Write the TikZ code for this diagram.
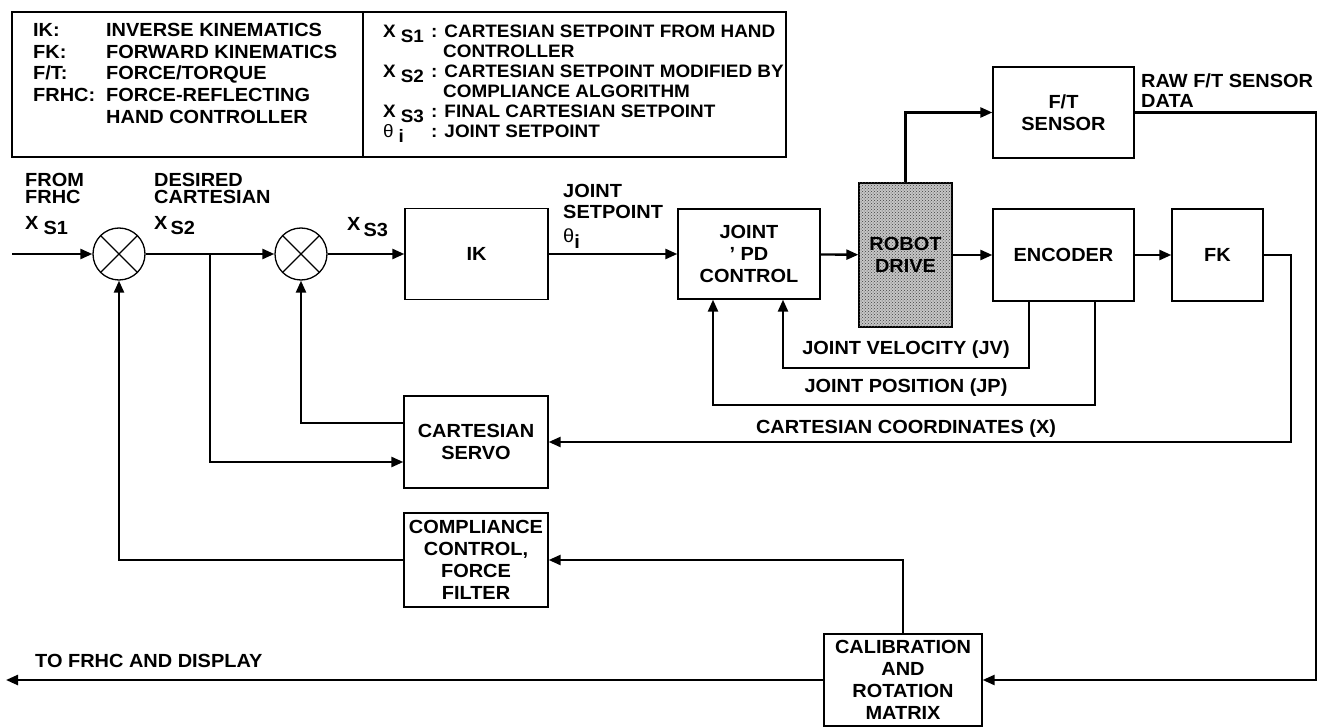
\documentclass[tikz,border=0pt]{standalone}
\usepackage{fontspec}
\setmainfont{Liberation Sans}[FakeStretch=1.05]
\usepackage{tikz}
\usetikzlibrary{arrows.meta,positioning,patterns}
\newcommand{\lowsub}[1]{\raisebox{-0.55ex}{#1}}

\begin{document}
\begin{tikzpicture}[x=1pt,y=-1pt,font=\fontsize{19}{22}\selectfont\bfseries,
  blk/.style={draw,line width=1.3pt,align=center,inner sep=0pt},
  sumj/.style={circle,draw,line width=1.3pt,minimum size=52pt,inner sep=0pt,
    path picture={\draw[line width=1.1pt]
      (path picture bounding box.north west) -- (path picture bounding box.south east)
      (path picture bounding box.north east) -- (path picture bounding box.south west);}},
  wire/.style={line width=2.4pt},
  sig/.style={wire,-{Triangle[length=12pt,width=10pt]}},
  lbl/.style={align=left,inner sep=0pt,anchor=north west},
  txt/.style={inner sep=0pt,anchor=base west},
  rtxt/.style={txt,font=\fontsize{18}{20}\selectfont\bfseries}]
  \useasboundingbox (0,0) rectangle (1325,727);

  \draw[line width=2pt] (12,12) rectangle (786,157);
  \draw[line width=2pt] (363,12) -- (363,157);
  \node[txt] (kik) at (33,36.5) {IK:};
  \node[txt] (dik) at (106,36.5) {INVERSE KINEMATICS};
  \node[txt] (kfk) at (33,58.5) {FK:};
  \node[txt] (dfk) at (106,58.5) {FORWARD KINEMATICS};
  \node[txt] (kft) at (33,79.5) {F/T:};
  \node[txt] (dft) at (106,79.5) {FORCE/TORQUE};
  \node[txt] (kfrhc) at (33,101.5) {FRHC:};
  \node[txt] (dfrhc) at (106,101.5) {FORCE-REFLECTING};
  \node[txt] (dfrhcb) at (106,123.5) {HAND CONTROLLER};
  \node[rtxt] (kxs1) at (383,37.5) {X\hspace{5pt}\lowsub{S1}};
  \node[rtxt] (dxs1) at (431,37.5) {: CARTESIAN SETPOINT FROM HAND};
  \node[rtxt] (dxs1b) at (443,57.5) {CONTROLLER};
  \node[rtxt] (kxs2) at (383,77.5) {X\hspace{5pt}\lowsub{S2}};
  \node[rtxt] (dxs2) at (431,77.5) {: CARTESIAN SETPOINT MODIFIED BY};
  \node[rtxt] (dxs2b) at (443,97.5) {COMPLIANCE ALGORITHM};
  \node[rtxt] (kxs3) at (383,117.5) {X\hspace{5pt}\lowsub{S3}};
  \node[rtxt] (dxs3) at (431,117.5) {: FINAL CARTESIAN SETPOINT};
  \node[rtxt] (kthi) at (383,137.5) {{\mdseries θ}\hspace{5pt}\lowsub{i}};
  \node[rtxt] (dthi) at (431,137.5) {: JOINT SETPOINT};

  \node[sumj] (j1) at (119,254) {};
  \node[sumj] (j2) at (301,254) {};
  \node[blk,minimum width=143pt,minimum height=91pt] (ik) at (476.5,254) {IK};
  \node[blk,minimum width=142pt,minimum height=90pt] (pd) at (749,254)
    {JOINT\\\textquoteright\ PD\\CONTROL};
  \node[blk,minimum width=93pt,minimum height=144pt,fill=gray!45,
    postaction={pattern=crosshatch dots,pattern color=black!75}] (drive) at (905.5,255)
    {ROBOT\\DRIVE};
  \node[blk,minimum width=141pt,minimum height=91pt] (ftsens) at (1063.5,112.5) {F/T\\SENSOR};
  \node[blk,minimum width=141pt,minimum height=92pt] (enc) at (1063.5,255) {ENCODER};
  \node[blk,minimum width=91pt,minimum height=92pt] (fk) at (1217.5,255) {FK};
  \node[blk,minimum width=144pt,minimum height=92pt] (servo) at (476,442) {CARTESIAN\\SERVO};
  \node[blk,minimum width=144pt,minimum height=94pt] (compl) at (476,560)
    {COMPLIANCE\\CONTROL,\\FORCE\\FILTER};
  \node[blk,minimum width=158pt,minimum height=92pt] (calib) at (903,680)
    {CALIBRATION\\AND\\ROTATION\\MATRIX};

  \node[lbl,font=\fontsize{19}{17.5}\selectfont\bfseries] (lfrom) at (25,173)
    {FROM\\FRHC\\[8pt]X\hspace{5pt}\lowsub{S1}};
  \node[lbl,font=\fontsize{19}{17.5}\selectfont\bfseries] (ldes) at (154,173)
    {DESIRED\\CARTESIAN\\[8pt]X\hspace{3pt}\lowsub{S2}};
  \node[txt] (lxs3) at (347,231) {X\hspace{3pt}\lowsub{S3}};
  \node[lbl,font=\fontsize{19}{21}\selectfont\bfseries] (ljs) at (563,184.5)
    {JOINT\\SETPOINT\\[3pt]{\mdseries θ}\lowsub{i}};
  \node[lbl,font=\fontsize{19}{20}\selectfont\bfseries] (lraw) at (1141,73.5)
    {RAW F/T SENSOR\\DATA};
  \node (ljv) at (906,350) {JOINT VELOCITY (JV)};
  \node (ljp) at (906,388) {JOINT POSITION (JP)};
  \node (lcart) at (906,429) {CARTESIAN COORDINATES (X)};
  \node[txt] (lto) at (35,667) {TO FRHC AND DISPLAY};

  \coordinate (fromfrhc) at (12,254);
  \coordinate (br) at (210,254);
  \coordinate (rawx) at (1316,0);
  \coordinate (fkx) at (1291,0);
  \coordinate (jv) at (1029,368);
  \coordinate (jp) at (1095,405);
  \coordinate (tofrhc) at (6,680);
  \draw[sig] (fromfrhc) -- (j1);
  \draw[sig] (j1) -- (j2);
  \draw[sig] (j2) -- (ik);
  \draw[sig] (ik) -- (pd);
  \draw[sig] (pd) -- (drive);
  \draw[sig] (drive) -- (enc);
  \draw[sig] (enc) -- (fk);
  \draw[sig] (drive.north) |- (ftsens.west);
  \draw[sig] (ftsens.east) -| (rawx |- calib.east) -- (calib.east);
  \draw[sig] (fk.east) -| (fkx |- servo.east) -- (servo.east);
  \draw[sig] (enc.south -| jv) -- (jv) -| ([xshift=34pt]pd.south);
  \draw[sig] (enc.south -| jp) -- (jp) -| ([xshift=-36pt]pd.south);
  \draw[sig] (br) |- ([yshift=-20pt]servo.west);
  \draw[sig] ([yshift=19pt]servo.west) -| (j2.south);
  \draw[sig] (compl.west) -| (j1.south);
  \draw[sig] (calib.north) |- (compl.east);
  \draw[sig] (calib.west) -- (tofrhc);
\end{tikzpicture}
\end{document}
